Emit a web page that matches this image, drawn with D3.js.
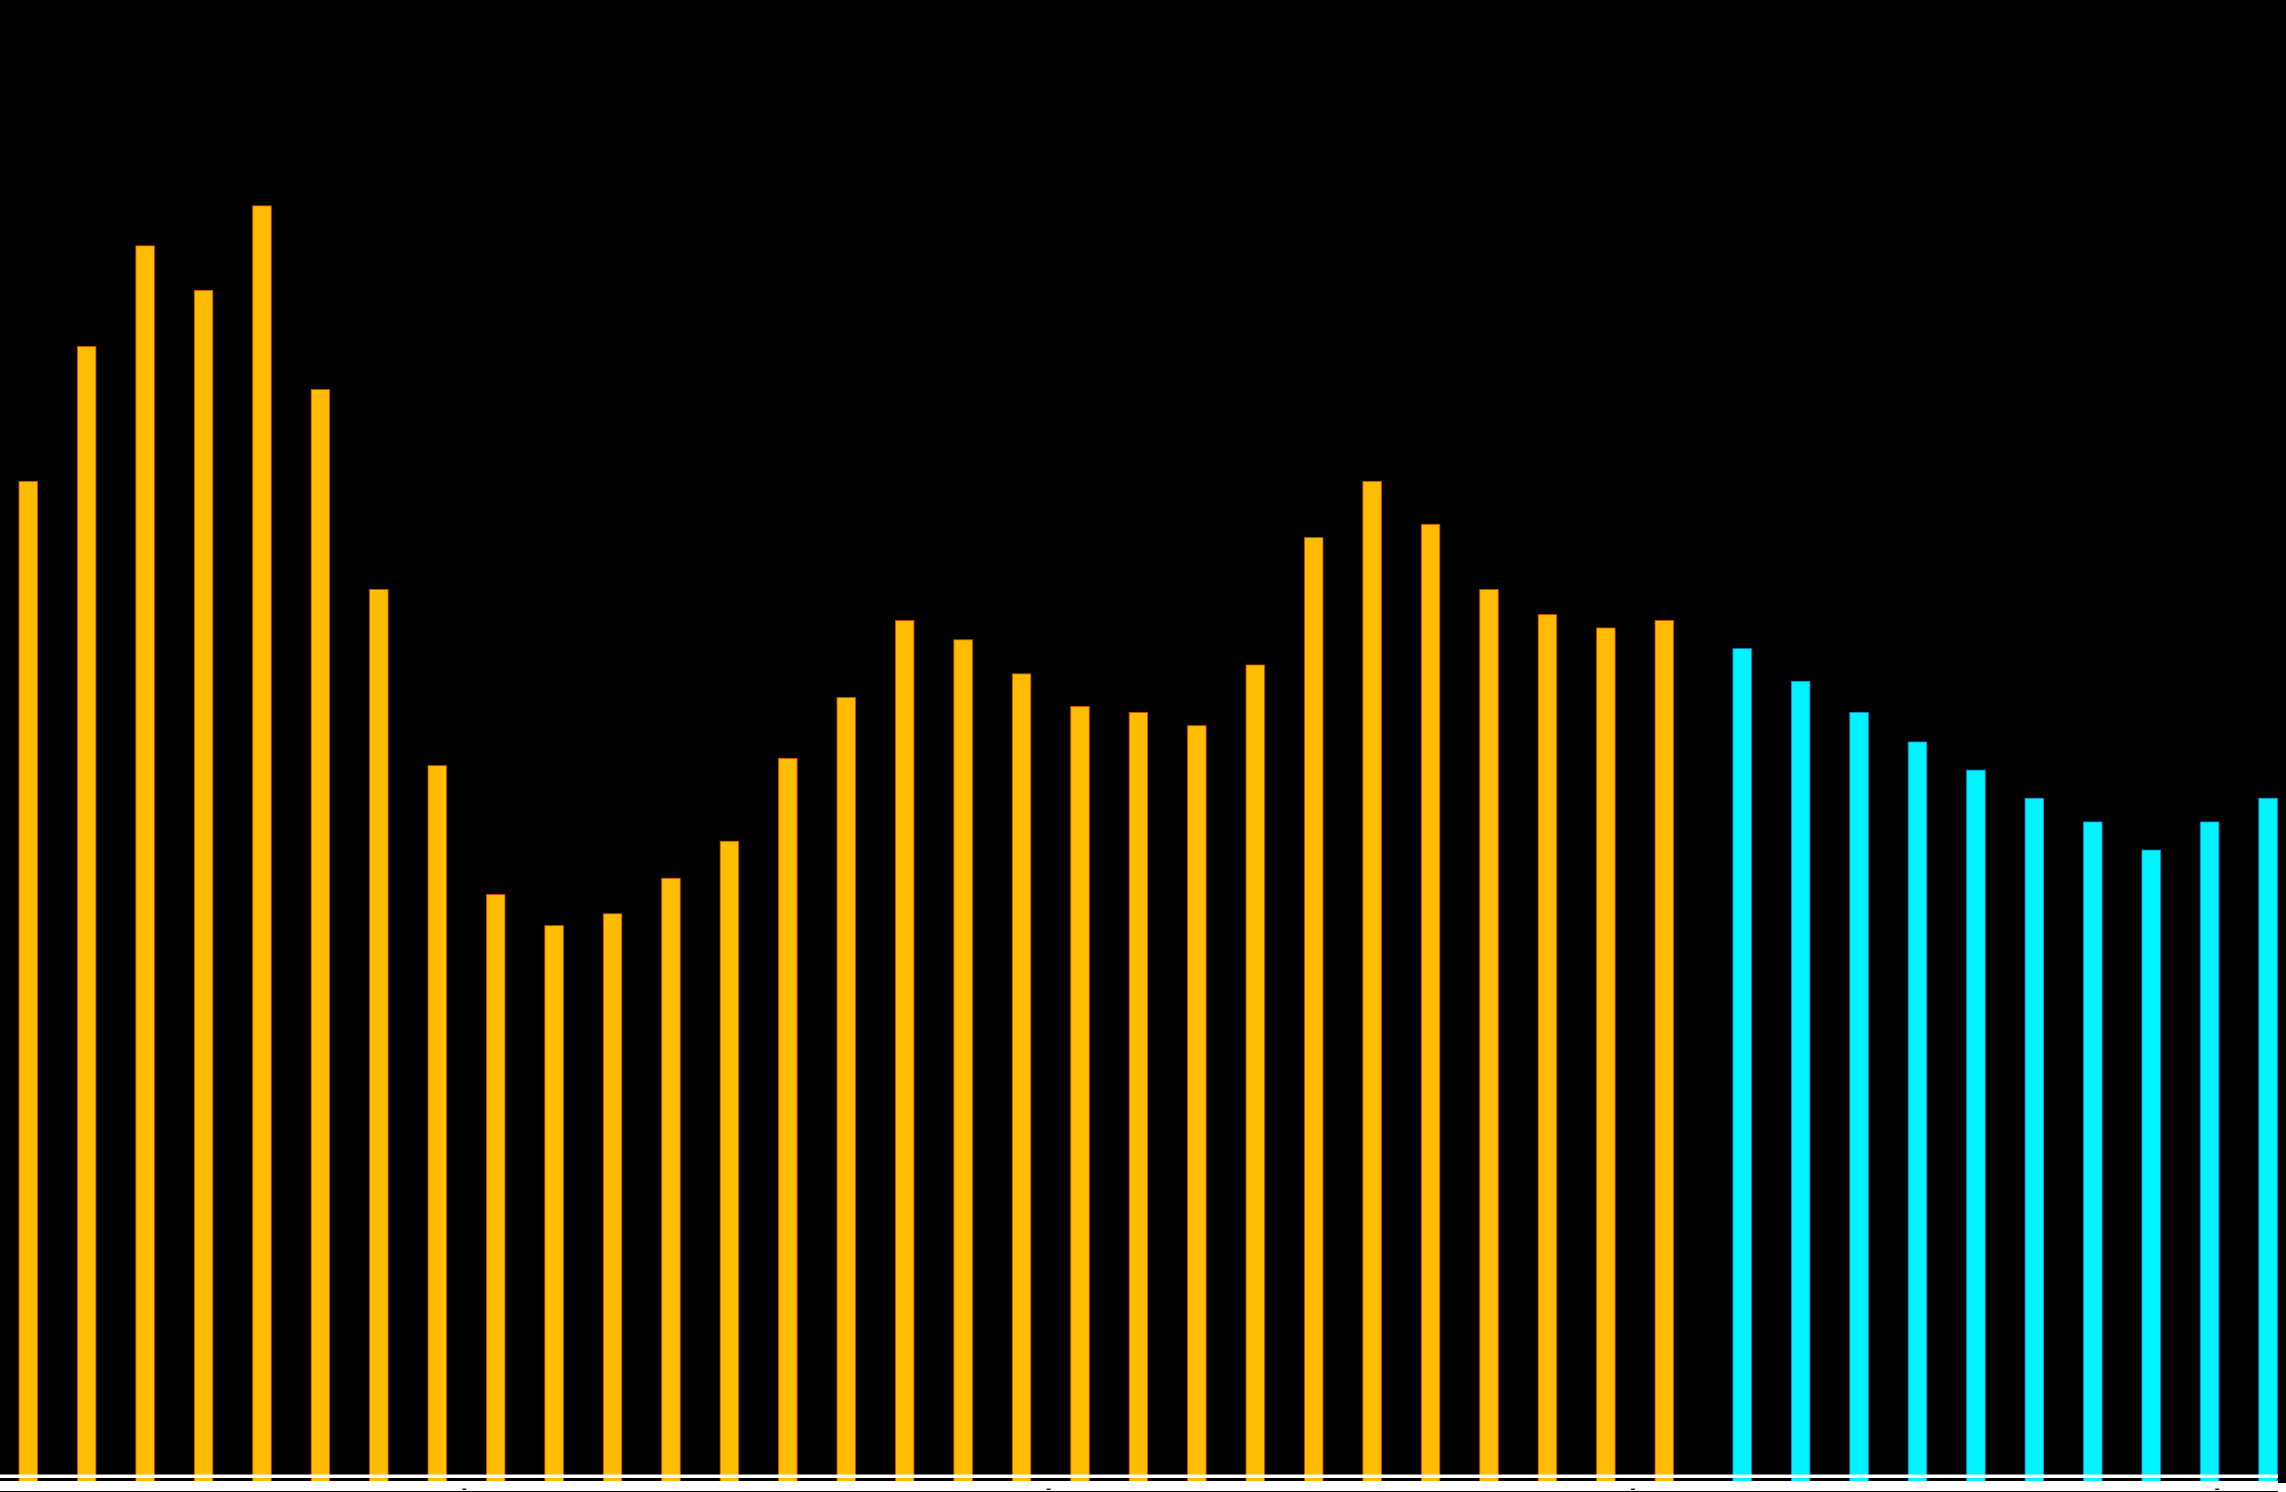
<!DOCTYPE html>
<html>
<head>
<meta charset="utf-8">
<script src="https://cdn.jsdelivr.net/npm/d3@7"></script>
<style>
  html, body { margin: 0; padding: 0; background: #ffffff; overflow: hidden; }
  svg { display: block; }
</style>
</head>
<body>
<div id="chart"></div>
<script>
// ---- data ----
const years = d3.range(1980, 2019);            // 39 yearly slots
const observedYears = years.slice(0, 29);
const forecastYears = years.slice(29);
const observedValues = [67.5, 76.6, 83.4, 80.4, 86.1, 73.7, 60.2, 48.3, 39.6, 37.5,
                        38.3, 40.7, 43.2, 48.8, 52.9, 58.1, 56.8, 54.5, 52.3, 51.9,
                        51.0, 55.1, 63.7, 67.5, 64.6, 60.2, 58.5, 57.6, 58.1];
const forecastValues = [56.2, 54.0, 51.9, 49.9, 48.0, 46.1, 44.5, 42.6, 44.5, 46.1];
const seriesNames = ["observed", "forecast", "spare"];
const tickIndex = [7.63, 17.63, 27.63, 37.63];

// ---- layout ----
const W = 2286, H = 1492;
const plotRight = 2278, plotBottom = 1481;
const x0 = 19, step = 58.43;

const svg = d3.select("#chart").append("svg").attr("width", W).attr("height", H);

svg.append("rect").attr("x", 0).attr("y", 0).attr("width", W).attr("height", H).attr("fill", "#ffffff");
svg.append("rect").attr("x", 0).attr("y", 0).attr("width", W).attr("height", plotBottom).attr("fill", "#000000");
svg.append("rect").attr("x", plotRight).attr("y", 0).attr("width", W - plotRight).attr("height", plotBottom + 2).attr("fill", "#000000");

const x = d3.scaleBand().domain(years).range([x0, x0 + step * years.length]).paddingInner(0).paddingOuter(0);
const xs = d3.scaleBand().domain(seriesNames).range([0, x.bandwidth()]);
const xi = d3.scaleLinear().domain([0, years.length]).range([x0, x0 + step * years.length]);
const y = d3.scaleLinear().domain([0, 100]).range([plotBottom, 0]);

const barW = xs.bandwidth() * 0.95;

const obs = observedYears.map((yr, i) => ({ year: yr, value: observedValues[i], s: "observed" }));
const fc = forecastYears.map((yr, i) => ({ year: yr, value: forecastValues[i], s: "forecast" }));

const clip = svg.append("clipPath").attr("id", "plotclip").append("rect")
  .attr("x", 0).attr("y", 0).attr("width", plotRight).attr("height", plotBottom);

const g = svg.append("g").attr("clip-path", "url(#plotclip)");

g.selectAll("rect.obs").data(obs).join("rect")
  .attr("class", "obs")
  .attr("x", d => x(d.year) + xs(d.s))
  .attr("y", d => y(d.value))
  .attr("width", barW)
  .attr("height", d => plotBottom - y(d.value) + 2)
  .attr("fill", "#FFBC00")
  .attr("stroke", "#D04A00")
  .attr("stroke-width", 0.8);

g.selectAll("rect.fc").data(fc).join("rect")
  .attr("class", "fc")
  .attr("x", d => x(d.year) + xs(d.s))
  .attr("y", d => y(d.value))
  .attr("width", barW)
  .attr("height", d => plotBottom - y(d.value) + 2)
  .attr("fill", "#00F4FF")
  .attr("stroke", "#1A8CD8")
  .attr("stroke-width", 0.8);

// white baseline band across the bars
svg.append("rect").attr("x", 0).attr("y", 1474.5).attr("width", plotRight).attr("height", 3.5).attr("fill", "#ffffff");

// bottom axis line with tiny tick marks
const axis = d3.axisBottom(xi).tickValues(tickIndex).tickSize(0).tickFormat("");
const ag = svg.append("g").attr("transform", `translate(0, ${H - 1})`).call(axis);
ag.select(".domain").remove();
ag.append("line").attr("x1", 0).attr("x2", plotRight).attr("y1", 0.5).attr("y2", 0.5).attr("stroke", "#000").attr("stroke-width", 1);
ag.selectAll(".tick").append("rect").attr("x", -8).attr("y", -1).attr("width", 16).attr("height", 3).attr("fill", "#ffffff");
ag.selectAll(".tick").append("rect").attr("x", -3).attr("y", -2.5).attr("width", 4).attr("height", 1.5).attr("fill", "#222");
</script>
</body>
</html>
